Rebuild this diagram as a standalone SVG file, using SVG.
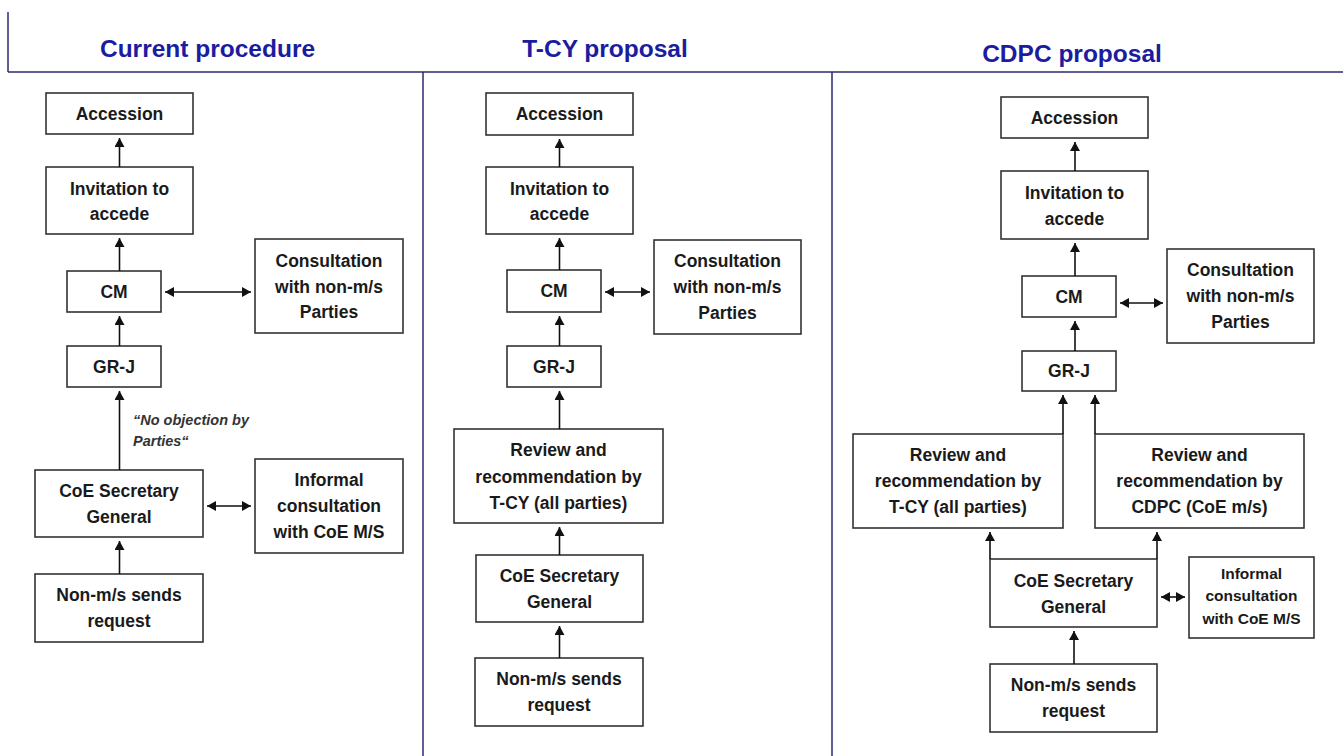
<svg xmlns="http://www.w3.org/2000/svg" width="1343" height="756" viewBox="0 0 1343 756">
<defs>
<style>
.bg{fill:#ffffff}
.frame{stroke:#2a2a6e;stroke-width:1.5;fill:none}
.title{font-family:"Liberation Sans",Arial,sans-serif;font-weight:bold;font-size:24.5px;fill:#1c1ca0;text-anchor:middle}
.box{fill:#ffffff;stroke:#333333;stroke-width:1.6}
.lbl{font-family:"Liberation Sans",Arial,sans-serif;font-weight:bold;font-size:17.5px;fill:#1a1a1a;text-anchor:middle}
.sm{font-size:15.5px}
.note{font-family:"Liberation Sans",Arial,sans-serif;font-weight:bold;font-style:italic;font-size:14.5px;fill:#333333}
.con{stroke:#111111;stroke-width:1.6;fill:none}
.up{marker-end:url(#ah)}
.both{marker-end:url(#ah);marker-start:url(#ah)}
</style>
<marker id="ah" markerUnits="userSpaceOnUse" markerWidth="11" markerHeight="11" refX="9" refY="5" orient="auto-start-reverse">
<path d="M0,0 L9,5 L0,10 Z" fill="#111111"/>
</marker>
</defs>
<rect class="bg" x="0" y="0" width="1343" height="756"/>
<g id="frame">
<line class="frame" x1="8" y1="12" x2="8" y2="72"/>
<line class="frame" x1="8" y1="72" x2="1343" y2="72"/>
<line class="frame" x1="423" y1="72" x2="423" y2="756"/>
<line class="frame" x1="832" y1="72" x2="832" y2="756"/>
</g>
<g id="titles">
<text class="title" x="207.5" y="57">Current procedure</text>
<text class="title" x="605" y="57">T-CY proposal</text>
<text class="title" x="1072" y="62">CDPC  proposal</text>
</g>

<!-- Panel 1 -->
<g id="p1-accession"><rect class="box" x="46" y="93" width="147" height="41"/><text class="lbl" x="119.5" y="119.5">Accession</text></g>
<g id="p1-invitation"><rect class="box" x="46" y="167" width="147" height="67"/><text class="lbl" x="119.5" y="194.5">Invitation to</text><text class="lbl" x="119.5" y="220">accede</text></g>
<g id="p1-cm"><rect class="box" x="67" y="271" width="94" height="41"/><text class="lbl" x="114" y="297.5">CM</text></g>
<g id="p1-consultation"><rect class="box" x="255" y="239" width="148" height="94"/><text class="lbl" x="329" y="266.5">Consultation</text><text class="lbl" x="329" y="292.5">with  non-m/s</text><text class="lbl" x="329" y="318">Parties</text></g>
<g id="p1-grj"><rect class="box" x="67" y="346" width="94" height="41"/><text class="lbl" x="114" y="372.5">GR-J</text></g>
<g id="p1-note"><text class="note" x="133" y="425">“No objection by</text><text class="note" x="133" y="446">Parties“</text></g>
<g id="p1-coe"><rect class="box" x="35" y="470" width="168" height="67"/><text class="lbl" x="119" y="497">CoE Secretary</text><text class="lbl" x="119" y="523">General</text></g>
<g id="p1-informal"><rect class="box" x="255" y="459" width="148" height="94"/><text class="lbl" x="329" y="486">Informal</text><text class="lbl" x="329" y="512">consultation</text><text class="lbl" x="329" y="538">with CoE M/S</text></g>
<g id="p1-request"><rect class="box" x="35" y="574" width="168" height="68"/><text class="lbl" x="119" y="601">Non-m/s sends</text><text class="lbl" x="119" y="627">request</text></g>

<!-- Panel 2 -->
<g id="p2-accession"><rect class="box" x="486" y="93" width="147" height="42"/><text class="lbl" x="559.5" y="120">Accession</text></g>
<g id="p2-invitation"><rect class="box" x="486" y="167" width="147" height="67"/><text class="lbl" x="559.5" y="194.5">Invitation to</text><text class="lbl" x="559.5" y="220">accede</text></g>
<g id="p2-cm"><rect class="box" x="507" y="270" width="94" height="42"/><text class="lbl" x="554" y="297">CM</text></g>
<g id="p2-consultation"><rect class="box" x="654" y="240" width="147" height="94"/><text class="lbl" x="727.5" y="267">Consultation</text><text class="lbl" x="727.5" y="293">with  non-m/s</text><text class="lbl" x="727.5" y="318.5">Parties</text></g>
<g id="p2-grj"><rect class="box" x="507" y="346" width="94" height="41"/><text class="lbl" x="554" y="372.5">GR-J</text></g>
<g id="p2-review"><rect class="box" x="454" y="429" width="209" height="94"/><text class="lbl" x="558.5" y="456">Review  and</text><text class="lbl" x="558.5" y="482.5">recommendation by</text><text class="lbl" x="558.5" y="508.5">T-CY (all parties)</text></g>
<g id="p2-coe"><rect class="box" x="476" y="555" width="167" height="67"/><text class="lbl" x="559.5" y="582">CoE Secretary</text><text class="lbl" x="559.5" y="608">General</text></g>
<g id="p2-request"><rect class="box" x="475" y="658" width="168" height="68"/><text class="lbl" x="559" y="685">Non-m/s sends</text><text class="lbl" x="559" y="711">request</text></g>

<!-- Panel 3 -->
<g id="p3-accession"><rect class="box" x="1001" y="97" width="147" height="41"/><text class="lbl" x="1074.5" y="123.5">Accession</text></g>
<g id="p3-invitation"><rect class="box" x="1001" y="171" width="147" height="68"/><text class="lbl" x="1074.5" y="198.5">Invitation to</text><text class="lbl" x="1074.5" y="224.5">accede</text></g>
<g id="p3-cm"><rect class="box" x="1022" y="276" width="94" height="41"/><text class="lbl" x="1069" y="302.5">CM</text></g>
<g id="p3-consultation"><rect class="box" x="1167" y="249" width="147" height="94"/><text class="lbl" x="1240.5" y="276">Consultation</text><text class="lbl" x="1240.5" y="302">with  non-m/s</text><text class="lbl" x="1240.5" y="328">Parties</text></g>
<g id="p3-grj"><rect class="box" x="1022" y="351" width="94" height="40"/><text class="lbl" x="1069" y="377">GR-J</text></g>
<g id="p3-review-tcy"><rect class="box" x="853" y="434" width="210" height="94"/><text class="lbl" x="958" y="460.5">Review  and</text><text class="lbl" x="958" y="487">recommendation by</text><text class="lbl" x="958" y="513">T-CY (all parties)</text></g>
<g id="p3-review-cdpc"><rect class="box" x="1095" y="434" width="209" height="94"/><text class="lbl" x="1199.5" y="460.5">Review  and</text><text class="lbl" x="1199.5" y="487">recommendation by</text><text class="lbl" x="1199.5" y="513">CDPC (CoE m/s)</text></g>
<g id="p3-coe"><rect class="box" x="990" y="559" width="167" height="68"/><text class="lbl" x="1073.5" y="586.5">CoE Secretary</text><text class="lbl" x="1073.5" y="612.5">General</text></g>
<g id="p3-informal"><rect class="box" x="1189" y="557" width="125" height="81"/><text class="lbl sm" x="1251.5" y="578.5">Informal</text><text class="lbl sm" x="1251.5" y="601">consultation</text><text class="lbl sm" x="1251.5" y="623.5">with CoE M/S</text></g>
<g id="p3-request"><rect class="box" x="990" y="664" width="167" height="68"/><text class="lbl" x="1073.5" y="691">Non-m/s sends</text><text class="lbl" x="1073.5" y="717">request</text></g>

<g id="connectors">
<!-- panel 1 -->
<line class="con up" x1="119.5" y1="167" x2="119.5" y2="138"/>
<line class="con up" x1="119.5" y1="271" x2="119.5" y2="238"/>
<line class="con up" x1="119.5" y1="346" x2="119.5" y2="316"/>
<line class="con up" x1="119.5" y1="470" x2="119.5" y2="391"/>
<line class="con up" x1="119.5" y1="574" x2="119.5" y2="541"/>
<line class="con both" x1="165" y1="292" x2="251" y2="292"/>
<line class="con both" x1="207" y1="506" x2="251" y2="506"/>
<!-- panel 2 -->
<line class="con up" x1="559.5" y1="167" x2="559.5" y2="139"/>
<line class="con up" x1="559.5" y1="270" x2="559.5" y2="238"/>
<line class="con up" x1="559.5" y1="346" x2="559.5" y2="316"/>
<line class="con up" x1="559.5" y1="429" x2="559.5" y2="391"/>
<line class="con up" x1="559.5" y1="555" x2="559.5" y2="527"/>
<line class="con up" x1="559.5" y1="658" x2="559.5" y2="626"/>
<line class="con both" x1="605" y1="292" x2="650" y2="292"/>
<!-- panel 3 -->
<line class="con up" x1="1075" y1="171" x2="1075" y2="142"/>
<line class="con up" x1="1075" y1="276" x2="1075" y2="243"/>
<line class="con up" x1="1075" y1="351" x2="1075" y2="321"/>
<line class="con up" x1="1063" y1="434" x2="1063" y2="395"/>
<line class="con up" x1="1095" y1="434" x2="1095" y2="395"/>
<line class="con up" x1="990" y1="559" x2="990" y2="532"/>
<line class="con up" x1="1157" y1="559" x2="1157" y2="532"/>
<line class="con up" x1="1074" y1="664" x2="1074" y2="631"/>
<line class="con both" x1="1120" y1="303" x2="1163" y2="303"/>
<line class="con both" x1="1161" y1="597" x2="1185" y2="597"/>
</g>
</svg>
